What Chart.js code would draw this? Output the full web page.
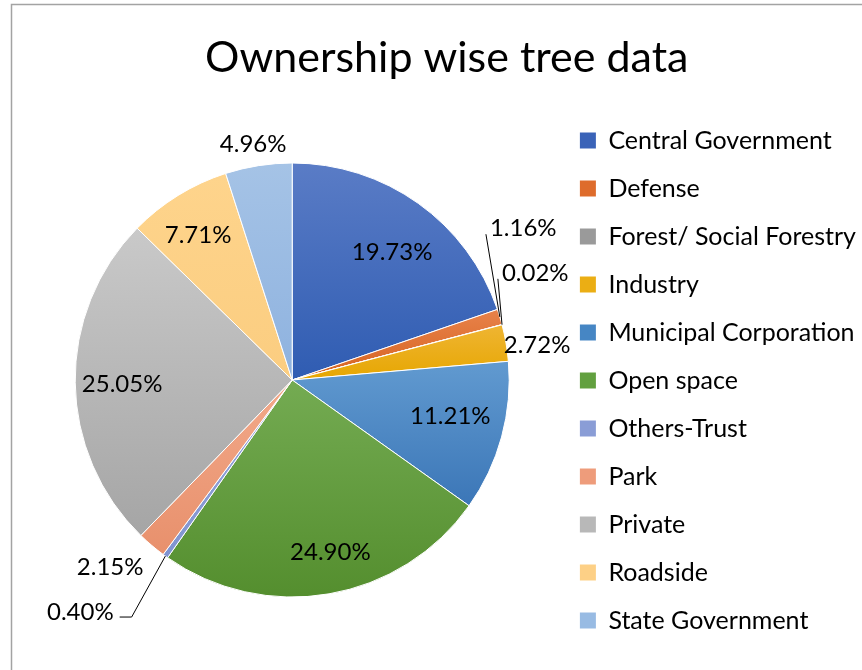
<!DOCTYPE html>
<html>
<head>
<meta charset="utf-8">
<script src="https://cdn.jsdelivr.net/npm/chart.js@4.4.1/dist/chart.umd.min.js"></script>
<style>
    html, body { margin: 0; padding: 0; background: #fff; }
    #wrap { width: 862px; height: 670px; position: relative; }
</style>
</head>
<body>
<div id="wrap"><canvas id="chart"></canvas></div>
<script>
const categories = [
    "Central Government", "Defense", "Forest/ Social Forestry", "Industry",
    "Municipal Corporation", "Open space", "Others-Trust", "Park",
    "Private", "Roadside", "State Government"
];
const shares = [19.73, 1.16, 0.02, 2.72, 11.21, 24.90, 0.40, 2.15, 25.05, 7.71, 4.96];
// gradient stops per slice: top colour, bottom colour
const topColors = [
    "#5a7cc6", "#e8824a", "#a8a8a8", "#efb533", "#619ad0", "#74ab52",
    "#98a8dc", "#f2a98a", "#c9c9c9", "#fed48c", "#a5c3e6"
];
const bottomColors = [
    "#2f5cb2", "#d5621f", "#8f8f8f", "#e6a600", "#3b76b7", "#548e2e",
    "#7f93d0", "#e8906c", "#a5a5a5", "#fbcd80", "#8eb2df"
];
const legendColors = [
    "#3a63b8", "#de6c2c", "#9a9a9a", "#ebae14", "#4686c4", "#62a03f",
    "#8a9dd6", "#ee9c7b", "#b8b8b8", "#fdd086", "#98bbe3"
];

// where each percentage sits: angle from 12 o'clock (deg), distance in radii, leader line kind
const labelSpots = [
    [38.0, 0.748, null], [56.7, 1.274, "right"], [66.2, 1.224, "right"], [81.9, 1.14, null],
    [102.8, 0.747, null], [167.5, 0.812, null], [222.4, 1.448, "elbow"], [224.2, 1.203, null],
    [268.6, 0.784, null], [327.0, 0.796, null], [350.6, 1.102, null]
];

function sliceFill(c) {
    const i = c.dataIndex;
    const arc = c.element;
    if (!arc || !arc.outerRadius) return legendColors[i];
    // vertical extent of this slice, lighter at top and darker at bottom
    let top = arc.y, bottom = arc.y;
    for (let k = 0; k <= 24; k++) {
        const a = arc.startAngle + (arc.endAngle - arc.startAngle) * k / 24;
        const py = arc.y + Math.sin(a) * arc.outerRadius;
        top = Math.min(top, py); bottom = Math.max(bottom, py);
    }
    const g = c.chart.ctx.createLinearGradient(0, top, 0, bottom + 1);
    g.addColorStop(0, topColors[i]);
    g.addColorStop(1, bottomColors[i]);
    return g;
}

const frame = {
    id: "frame",
    beforeDraw(chart) {
        const ctx = chart.ctx;
        ctx.save();
        ctx.strokeStyle = "#a3a3a3";
        ctx.lineWidth = 1.5;
        ctx.beginPath();
        ctx.moveTo(11.5, chart.height);
        ctx.lineTo(11.5, 4.5);
        ctx.lineTo(chart.width, 4.5);
        ctx.stroke();
        ctx.restore();
    }
};

const pctLabels = {
    id: "pctLabels",
    afterDatasetsDraw(chart) {
        const ctx = chart.ctx;
        const arcs = chart.getDatasetMeta(0).data;
        ctx.save();
        ctx.font = "24px Lato";
        ctx.fillStyle = "#000";
        ctx.strokeStyle = "#000";
        ctx.lineWidth = 1;
        ctx.textAlign = "center";
        ctx.textBaseline = "middle";
        arcs.forEach((arc, i) => {
            const p = arc.getProps(["x", "y", "startAngle", "endAngle", "outerRadius"], true);
            const spot = labelSpots[i];
            const a = spot[0] * Math.PI / 180;
            const tx = p.x + Math.sin(a) * spot[1] * p.outerRadius;
            const ty = p.y - Math.cos(a) * spot[1] * p.outerRadius;
            const text = shares[i].toFixed(2) + "%";
            ctx.fillText(text, tx, ty);
            if (!spot[2]) return;
            const mid = (p.startAngle + p.endAngle) / 2;
            const ax = p.x + Math.cos(mid) * p.outerRadius;
            const ay = p.y + Math.sin(mid) * p.outerRadius;
            const w = ctx.measureText(text).width;
            ctx.beginPath();
            if (spot[2] === "right") {
                ctx.moveTo(tx - w / 2 - 4, ty + 6);
                ctx.lineTo(ax, ay);
            } else {
                ctx.moveTo(tx + w / 2 + 6, ty + 5);
                ctx.lineTo(tx + w / 2 + 18, ty + 5);
                ctx.lineTo(ax, ay);
            }
            ctx.stroke();
        });
        ctx.restore();
    }
};

const chart = new Chart(document.getElementById("chart"), {
    type: "pie",
    data: {
        labels: categories,
        datasets: [{
            data: shares,
            backgroundColor: sliceFill,
            borderColor: "#fff",
            borderWidth: 1,
            radius: 217
        }]
    },
    options: {
        responsive: true,
        maintainAspectRatio: false,
        animation: false,
        events: [],
        layout: { padding: { left: 27.5, right: -4, top: 0, bottom: 14 } },
        plugins: {
            title: {
                display: true,
                text: "Ownership wise tree data",
                color: "#000",
                font: { family: "Lato", size: 43, weight: "normal" },
                padding: { top: 32.2, bottom: 20.2 }
            },
            legend: {
                position: "right",
                align: "end",
                labels: {
                    color: "#000",
                    font: { family: "Lato", size: 25 },
                    boxWidth: 16,
                    boxHeight: 16,
                    padding: 23,
                    generateLabels: () => categories.map((name, i) => ({
                        text: name,
                        fillStyle: legendColors[i],
                        strokeStyle: legendColors[i],
                        lineWidth: 0,
                        hidden: false,
                        index: i
                    }))
                }
            },
            tooltip: { enabled: false }
        }
    },
    plugins: [frame, pctLabels]
});
// second pass so the slice gradients can use the arc geometry
chart.update();
</script>
</body>
</html>
